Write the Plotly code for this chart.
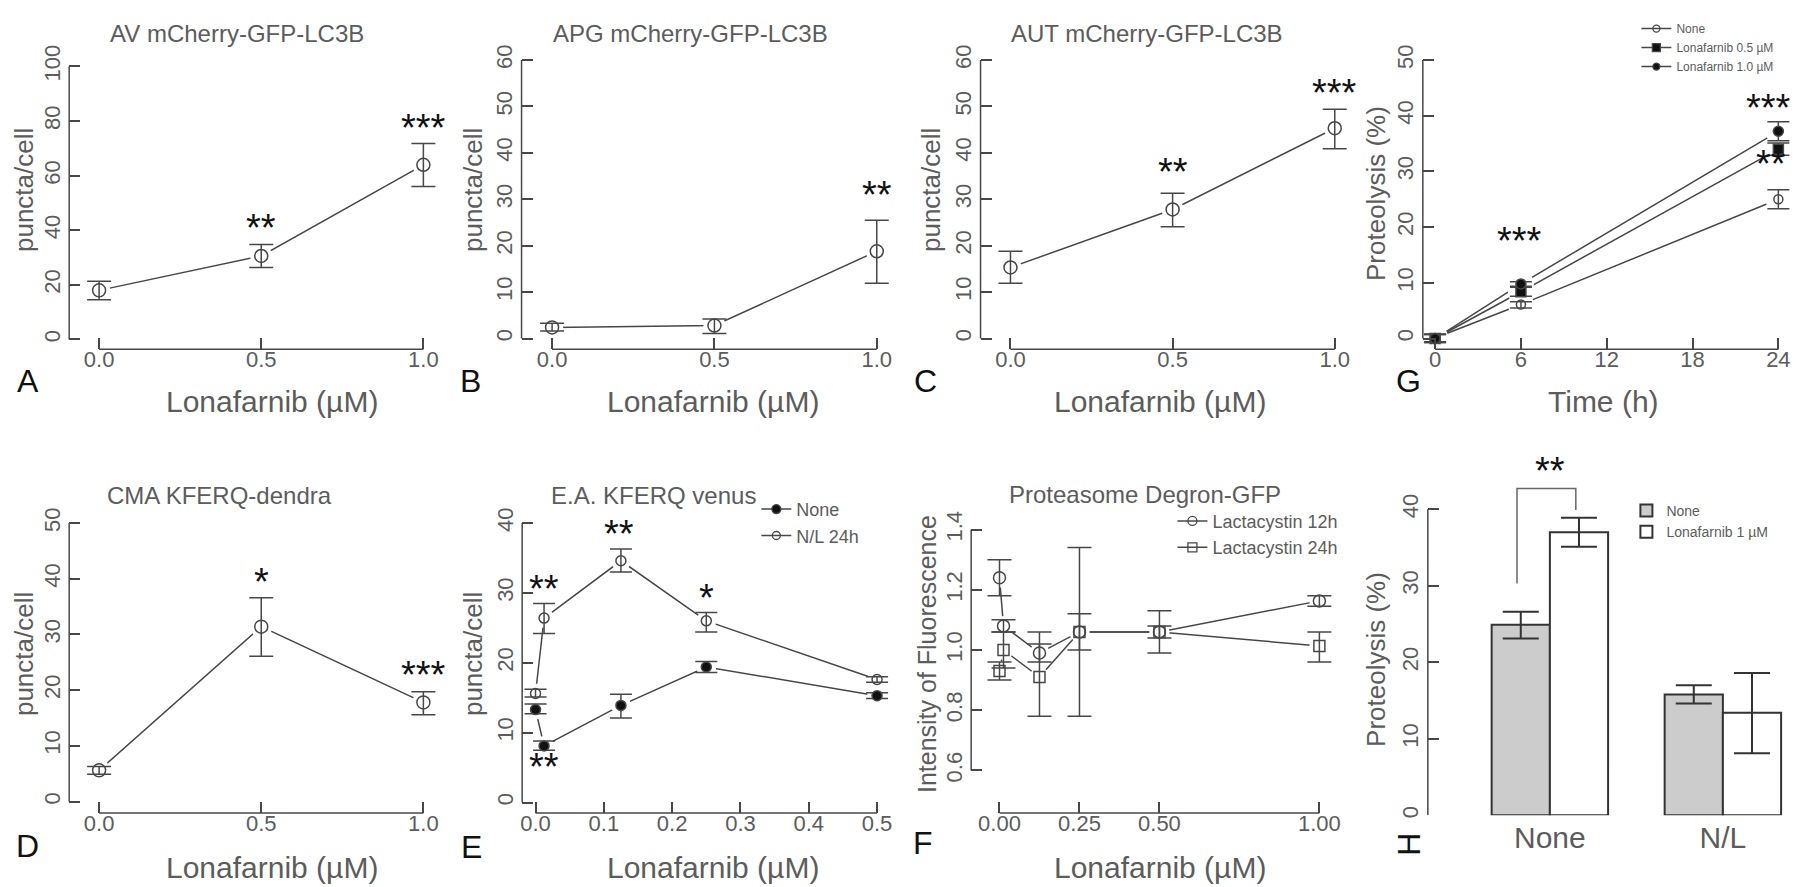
import plotly.graph_objects as go

# ======================================================
# Data
# ======================================================

# A  AV mCherry-GFP-LC3B
a_x = [0.0, 0.5, 1.0]
a_y = [18.0, 30.6, 64.0]
a_hi = [21.3, 34.8, 71.8]
a_lo = [14.6, 26.4, 56.0]
a_stars = [(0.5, 39.0, "**"), (1.0, 75.6, "***")]

# B  APG mCherry-GFP-LC3B
b_x = [0.0, 0.5, 1.0]
b_y = [2.4, 2.8, 18.8]
b_hi = [3.3, 4.2, 25.5]
b_lo = [1.6, 1.1, 11.9]
b_stars = [(1.0, 29.8, "**")]

# C  AUT mCherry-GFP-LC3B
c_x = [0.0, 0.5, 1.0]
c_y = [15.3, 27.8, 45.3]
c_hi = [18.8, 31.3, 49.4]
c_lo = [11.9, 24.1, 40.9]
c_stars = [(0.5, 34.7, "**"), (1.0, 51.9, "***")]

# G  Proteolysis time course
g_t = [0, 6, 24]
g_none = [0.1, 6.1, 25.0]
g_none_hi = [0.8, 6.6, 26.7]
g_none_lo = [-0.6, 5.5, 23.3]
g_l05 = [0.0, 8.4, 34.0]
g_l05_hi = [0.7, 9.2, 35.1]
g_l05_lo = [-0.7, 7.6, 32.9]
g_l10 = [0.0, 9.8, 37.2]
g_l10_hi = [0.7, 10.2, 38.9]
g_l10_lo = [-0.7, 9.4, 35.5]
g_stars = [(5.9, 16.6, "***"), (23.3, 40.4, "***"), (23.5, 30.5, "**")]

# D  CMA KFERQ-dendra
d_x = [0.0, 0.5, 1.0]
d_y = [5.6, 31.4, 17.8]
d_hi = [6.3, 36.6, 19.7]
d_lo = [4.9, 26.1, 15.6]
d_stars = [(0.5, 38.5, "*"), (1.0, 21.8, "***")]

# E  E.A. KFERQ venus
e_x = [0.0, 0.0125, 0.125, 0.25, 0.5]
e_none = [13.3, 8.1, 13.9, 19.4, 15.3]
e_none_hi = [14.1, 8.8, 15.5, 20.2, 15.7]
e_none_lo = [12.7, 7.5, 12.1, 18.6, 14.9]
e_nl = [15.6, 26.4, 34.6, 26.0, 17.6]
e_nl_hi = [16.2, 28.5, 36.3, 27.2, 18.0]
e_nl_lo = [15.1, 24.2, 33.0, 24.4, 17.2]
e_stars = [(0.0125, 29.9, "**"), (0.0125, 4.4, "**"), (0.122, 37.7, "**"), (0.25, 28.5, "*")]

# F  Proteasome Degron-GFP
f_x = [0.0, 0.0125, 0.125, 0.25, 0.5, 1.0]
f_12 = [1.24, 1.08, 0.99, 1.06, 1.06, 1.163]
f_12_hi = [1.30, 1.10, 1.02, 1.12, 1.08, 1.18]
f_12_lo = [1.18, 1.06, 0.96, 1.00, 1.04, 1.145]
f_24 = [0.93, 1.00, 0.91, 1.06, 1.06, 1.013]
f_24_hi = [0.96, 1.06, 1.06, 1.34, 1.13, 1.06]
f_24_lo = [0.90, 0.94, 0.78, 0.78, 0.99, 0.96]

# H  Proteolysis bars
h_groups = ["None", "N/L"]
h_none = [24.9, 15.8]
h_none_hi = [26.6, 17.0]
h_none_lo = [23.1, 14.6]
h_lona = [37.0, 13.4]
h_lona_hi = [38.9, 18.6]
h_lona_lo = [35.1, 8.1]
h_bracket = [30.3, 42.7, 39.9]

# ======================================================
# Styling
# ======================================================

W, H = 1800, 887
INK = "#474747"
TXT = "#5c5c5c"
FONT = "Liberation Sans, Arial, sans-serif"
STAR_SHIFT = 5

fig = go.Figure()
annotations = []
shapes = []
line_traces, mask_traces, mark_traces = [], [], []


def ax_names(n):
    s = "" if n == 1 else str(n)
    return "x" + s, "y" + s


def setup_axes(n, left, bottom, xp, xv, yp, yv, xticks, xlabels, yticks, ylabels=None,
               right=None, top=None, xline=True):
    sx = (xp[1] - xp[0]) / (xv[1] - xv[0])
    padx = xp[0] - left
    right = right if right is not None else xp[1] + padx
    xr = [xv[0] - padx / sx, xv[1] + (right - xp[1]) / sx]
    sy = (yp[0] - yp[1]) / (yv[1] - yv[0])
    pady = bottom - yp[0]
    top = top if top is not None else yp[1] - pady
    yr = [yv[0] - pady / sy, yv[1] + (yp[1] - top) / sy]
    xn, yn = ax_names(n)
    if ylabels is None:
        ylabels = [f"{v:g}" for v in yticks]
    common = dict(showline=False, showgrid=False, zeroline=False,
                  ticks="inside", ticklen=11, tickwidth=1.5, tickcolor=INK,
                  tickfont=dict(family=FONT, size=22, color=TXT))
    fig.update_layout(**{
        "xaxis" + xn[1:]: dict(domain=[left / W, right / W], range=xr,
                               anchor=yn, tickmode="array", tickvals=xticks,
                               ticktext=xlabels, ticklabelstandoff=-5, **common),
        "yaxis" + yn[1:]: dict(domain=[1 - bottom / H, 1 - top / H], range=yr,
                               anchor=xn, tickmode="array", tickvals=yticks,
                               ticktext=ylabels, tickangle=-90,
                               ticklabelstandoff=4, **common),
    })
    if xline:
        shapes.append(dict(type="line", xref=xn, yref=yn + " domain",
                           x0=xticks[0], x1=xticks[-1], y0=0, y1=0,
                           line=dict(color=INK, width=1.5)))
    shapes.append(dict(type="line", xref=xn + " domain", yref=yn,
                       x0=0, x1=0, y0=yticks[0], y1=yticks[-1],
                       line=dict(color=INK, width=1.5)))


def series(n, x, y, hi, lo, symbol, size, cap=12, mask=22, filled=False):
    xn, yn = ax_names(n)
    line_traces.append(go.Scatter(x=x, y=y, mode="lines", xaxis=xn, yaxis=yn,
                                  line=dict(color=INK, width=1.5),
                                  showlegend=False, hoverinfo="skip"))
    mask_traces.append(go.Scatter(x=x, y=y, mode="markers", xaxis=xn, yaxis=yn,
                                  marker=dict(symbol="circle", size=mask, color="white"),
                                  showlegend=False, hoverinfo="skip"))
    mark_traces.append(go.Scatter(
        x=x, y=y, mode="markers", xaxis=xn, yaxis=yn, showlegend=False,
        marker=dict(symbol=symbol, size=size, color="#111" if filled else INK,
                    line=dict(width=1.5, color=INK)),
        error_y=dict(type="data", symmetric=False,
                     array=[h - v for h, v in zip(hi, y)],
                     arrayminus=[v - l for v, l in zip(y, lo)],
                     color=INK, thickness=1.5, width=cap)))


def legend_item(name, legend, symbol, size, filled=False):
    fig.add_trace(go.Scatter(
        x=[None], y=[None], mode="lines+markers", name=name, legend=legend,
        line=dict(color=INK, width=1.5),
        marker=dict(symbol=symbol, size=size, color="#111" if filled else INK,
                    line=dict(width=1.3, color=INK))))


def text(x, y, s, size, color=TXT, angle=0, xref="paper", yref="paper", yshift=0):
    if xref == "paper":
        x = x / W
    if yref == "paper":
        y = 1 - y / H
    annotations.append(dict(x=x, y=y, xref=xref, yref=yref, text=s, showarrow=False,
                            textangle=angle, xanchor="center", yanchor="middle",
                            yshift=yshift, font=dict(family=FONT, size=size, color=color)))


def stars(n, items):
    xn, yn = ax_names(n)
    for x, y, s in items:
        text(x, y, s, 38, color="#111", xref=xn, yref=yn, yshift=STAR_SHIFT)


# ======================================================
# Panels
# ======================================================

lab3 = ["0.0", "0.5", "1.0"]
TITLE = 24
YTITLE = 26

# A
setup_axes(1, 59.3, 335, (89.3, 414.3), (0, 1), (325, 47.3), (0, 100),
           [0, 0.5, 1], lab3, [0, 20, 40, 60, 80, 100])
series(1, a_x, a_y, a_hi, a_lo, "circle-open", 13)
stars(1, a_stars)
text(228, 14, "AV mCherry-GFP-LC3B", TITLE)
text(14, 173, "puncta/cell", YTITLE, angle=-90)
text(263, 388, "Lonafarnib (µM)", 30)
text(18, 367, "A", 32, color="#111")

# B
setup_axes(2, 512.7, 335, (543.3, 868.7), (0, 1), (324, 40.7), (0, 60),
           [0, 0.5, 1], lab3, [0, 10, 20, 30, 40, 50, 60])
series(2, b_x, b_y, b_hi, b_lo, "circle-open", 13)
stars(2, b_stars)
text(682, 14, "APG mCherry-GFP-LC3B", TITLE)
text(464, 173, "puncta/cell", YTITLE, angle=-90)
text(705, 388, "Lonafarnib (µM)", 30)
text(462, 367, "B", 32, color="#111")

# C
setup_axes(3, 972.7, 335, (1002.7, 1327.7), (0, 1), (324, 40.7), (0, 60),
           [0, 0.5, 1], lab3, [0, 10, 20, 30, 40, 50, 60])
series(3, c_x, c_y, c_hi, c_lo, "circle-open", 13)
stars(3, c_stars)
text(1140, 14, "AUT mCherry-GFP-LC3B", TITLE)
text(923, 173, "puncta/cell", YTITLE, angle=-90)
text(1153, 388, "Lonafarnib (µM)", 30)
text(918, 367, "C", 32, color="#111")

# G
setup_axes(4, 1416, 335, (1428.3, 1772.3), (0, 24), (324, 40.7), (0, 50),
           [0, 6, 12, 18, 24], ["0", "6", "12", "18", "24"], [0, 10, 20, 30, 40, 50])
series(4, g_t, g_none, g_none_hi, g_none_lo, "circle-open", 9, cap=11, mask=26)
series(4, g_t, g_l05, g_l05_hi, g_l05_lo, "square", 10, cap=11, mask=26, filled=True)
series(4, g_t, g_l10, g_l10_hi, g_l10_lo, "circle", 10, cap=11, mask=26, filled=True)
stars(4, g_stars)
text(1369, 176, "Proteolysis (%)", YTITLE, angle=-90)
text(1597, 388, "Time (h)", 30)
text(1402, 367, "G", 32, color="#111")
legend_item("None", "legend", "circle-open", 7)
legend_item("Lonafarnib 0.5 µM", "legend", "square", 8, filled=True)
legend_item("Lonafarnib 1.0 µM", "legend", "circle", 7, filled=True)

# D
setup_axes(5, 59.3, 806.7, (89.3, 414.3), (0, 1), (795, 511.7), (0, 50),
           [0, 0.5, 1], lab3, [0, 10, 20, 30, 40, 50])
series(5, d_x, d_y, d_hi, d_lo, "circle-open", 13)
stars(5, d_stars)
text(210, 484, "CMA KFERQ-dendra", TITLE)
text(14, 645, "puncta/cell", YTITLE, angle=-90)
text(263, 862, "Lonafarnib (µM)", 30)
text(18, 840, "D", 32, color="#111")

# E
setup_axes(6, 513.3, 806.7, (526.7, 869), (0, 0.5), (796, 511.7), (0, 40),
           [0, 0.1, 0.2, 0.3, 0.4, 0.5], ["0.0", "0.1", "0.2", "0.3", "0.4", "0.5"],
           [0, 10, 20, 30, 40])
series(6, e_x, e_none, e_none_hi, e_none_lo, "circle", 10, cap=11, mask=20, filled=True)
series(6, e_x, e_nl, e_nl_hi, e_nl_lo, "circle-open", 10, cap=11, mask=20)
stars(6, e_stars)
text(645, 484, "E.A. KFERQ venus", TITLE)
text(464, 645, "puncta/cell", YTITLE, angle=-90)
text(705, 862, "Lonafarnib (µM)", 30)
text(463, 841, "E", 32, color="#111")
legend_item("None", "legend2", "circle", 9, filled=True)
legend_item("N/L 24h", "legend2", "circle-open", 8)

# F
setup_axes(7, 963.3, 806.7, (991.7, 1312.3), (0, 1), (763.3, 518.3), (0.6, 1.4),
           [0, 0.25, 0.5, 1.0], ["0.00", "0.25", "0.50", "1.00"],
           [0.6, 0.8, 1.0, 1.2, 1.4], ylabels=["0.6", "0.8", "1.0", "1.2", "1.4"], top=507)
series(7, f_x, f_12, f_12_hi, f_12_lo, "circle-open", 12, cap=12, mask=20)
series(7, f_x, f_24, f_24_hi, f_24_lo, "square-open", 11, cap=12, mask=20)
text(1138, 483, "Proteasome Degron-GFP", TITLE)
text(919, 645, "Intensity of Fluorescence", YTITLE - 1, angle=-90)
text(1153, 862, "Lonafarnib (µM)", 30)
text(915, 837, "F", 32, color="#111")
legend_item("Lactacystin 12h", "legend3", "circle-open", 9)
legend_item("Lactacystin 24h", "legend3", "square-open", 9)

# H
setup_axes(8, 1421, 809, (1543.3, 1716.7), (0, 1), (809, 497.7), (0, 40),
           [0, 1], h_groups, [0, 10, 20, 30, 40], right=1790, top=451, xline=False)
fig.update_layout(xaxis8=dict(ticks="", ticklabelstandoff=2,
                              tickfont=dict(family=FONT, size=30, color=TXT)))
fig.add_trace(go.Bar(
    x=[0, 1], y=h_none, name="None", legend="legend4", xaxis="x8", yaxis="y8",
    marker=dict(color="#cccccc", line=dict(color="#333", width=2)),
    error_y=dict(type="data", symmetric=False,
                 array=[h - v for h, v in zip(h_none_hi, h_none)],
                 arrayminus=[v - l for v, l in zip(h_none, h_none_lo)],
                 color="#333", thickness=2, width=18)))
fig.add_trace(go.Bar(
    x=[0, 1], y=h_lona, name="Lonafarnib 1 µM", legend="legend4", xaxis="x8", yaxis="y8",
    marker=dict(color="white", line=dict(color="#333", width=2)),
    error_y=dict(type="data", symmetric=False,
                 array=[h - v for h, v in zip(h_lona_hi, h_lona)],
                 arrayminus=[v - l for v, l in zip(h_lona, h_lona_lo)],
                 color="#333", thickness=2, width=18)))
shapes.append(dict(type="path", xref="x8", yref="y8",
                   path=f"M -0.19 {h_bracket[0]} L -0.19 {h_bracket[1]} "
                        f"L 0.15 {h_bracket[1]} L 0.15 {h_bracket[2]}",
                   line=dict(color="#666", width=1.5)))
stars(8, [(0.0, 44.3, "**")])
text(1369, 650, "Proteolysis (%)", YTITLE, angle=-90)
text(1402, 838, "H", 32, color="#111", angle=-90)

for t in line_traces + mask_traces + mark_traces:
    fig.add_trace(t)

leg = dict(xanchor="left", yanchor="top", bgcolor="rgba(0,0,0,0)",
           tracegroupgap=0, itemwidth=30, itemclick=False)
fig.update_layout(
    width=W, height=H,
    margin=dict(l=0, r=0, t=0, b=0),
    paper_bgcolor="white", plot_bgcolor="white",
    barmode="group", bargap=0.327, bargroupgap=0,
    showlegend=True,
    legend=dict(x=1630 / W, y=1 + 6 / H, font=dict(family=FONT, size=12, color=TXT), **leg),
    legend2=dict(x=748 / W, y=1 - 479 / H, font=dict(family=FONT, size=18, color=TXT), **leg),
    legend3=dict(x=1165 / W, y=1 - 491 / H, font=dict(family=FONT, size=18, color=TXT), **leg),
    legend4=dict(x=1620 / W, y=1 - 483 / H, font=dict(family=FONT, size=14, color=TXT), **leg),
    annotations=annotations,
    shapes=shapes,
)

fig.write_html("out.html")
